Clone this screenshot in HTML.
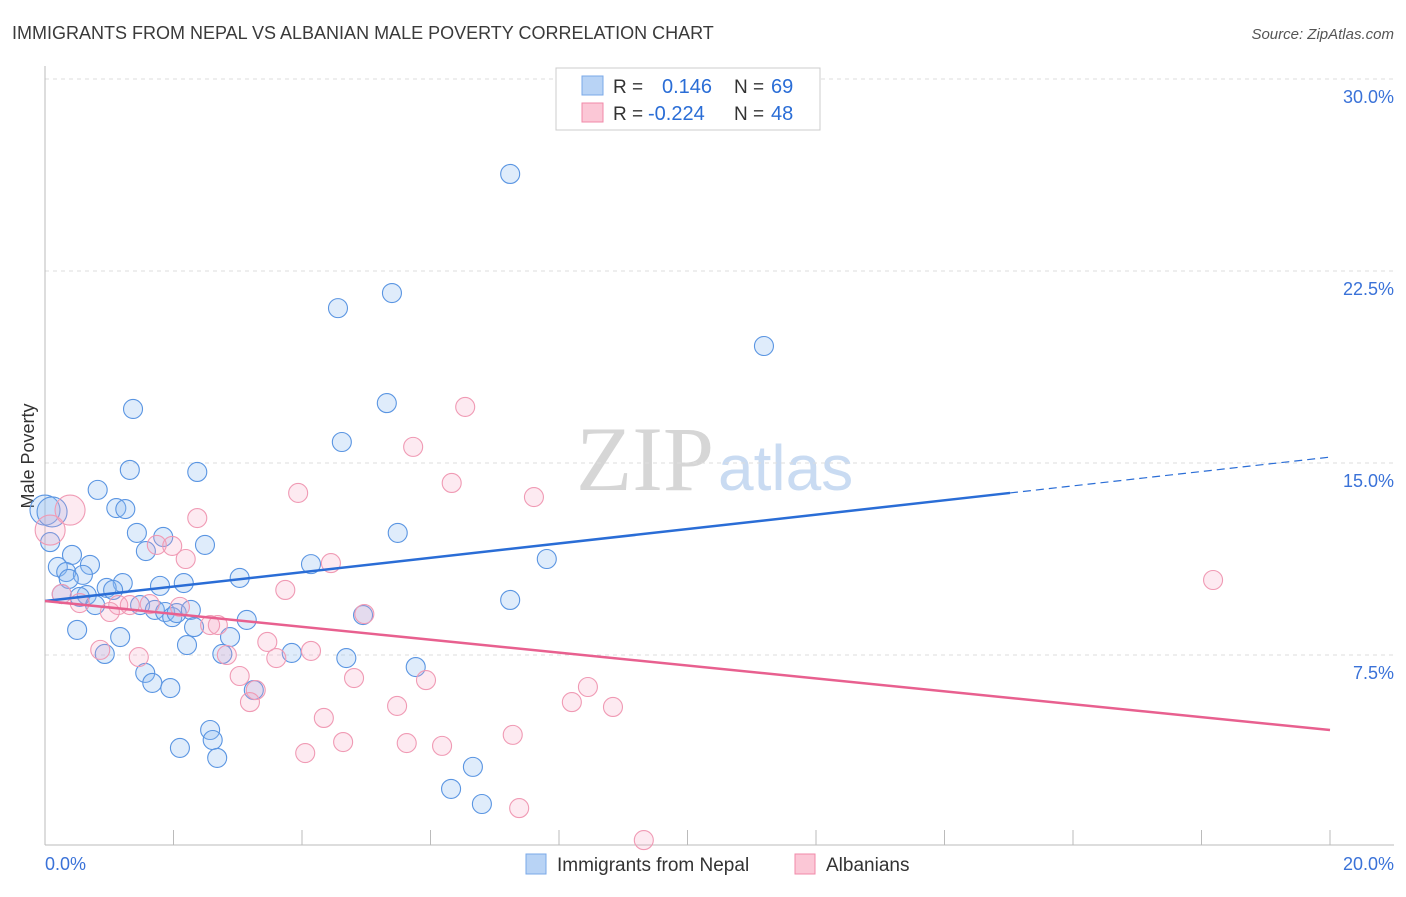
<!DOCTYPE html>
<html><head><meta charset="utf-8"><style>
body{margin:0;background:#fff;font-family:"Liberation Sans",sans-serif;}
svg text{font-family:"Liberation Sans",sans-serif;}
</style></head><body>
<svg id="chart" width="1406" height="892" xmlns="http://www.w3.org/2000/svg">
<text x="12" y="39" font-size="18" fill="#3a3a3a">IMMIGRANTS FROM NEPAL VS ALBANIAN MALE POVERTY CORRELATION CHART</text>
<text x="1394" y="39" font-size="15" fill="#555" font-style="italic" text-anchor="end">Source: ZipAtlas.com</text>
<text x="34" y="456" font-size="18" fill="#333" transform="rotate(-90 34 456)" text-anchor="middle">Male Poverty</text>
<text x="714" y="490" font-size="92" fill="#d6d6d6" style="font-family:'Liberation Serif',serif" text-anchor="end">ZIP</text>
<text x="718" y="490" font-size="64" fill="#c9dbf2">atlas</text>
<g id="grid"></g><g id="axes"></g><g id="pts"></g><g id="trends"></g>
<g>
<rect x="556" y="68" width="264" height="62" fill="#fff" stroke="#ccc"/>
<rect x="582" y="76" width="21" height="19" fill="#b8d3f5" stroke="#7aa8e8"/>
<rect x="582" y="103" width="21" height="19" fill="#fbc7d6" stroke="#f08aa8"/>
<text x="613" y="93" font-size="19" fill="#333">R = </text><text x="662" y="93" font-size="20" fill="#2a6dd6">0.146</text>
<text x="734" y="93" font-size="19" fill="#333">N = </text><text x="771" y="93" font-size="20" fill="#2a6dd6">69</text>
<text x="613" y="120" font-size="19" fill="#333">R = </text><text x="648" y="120" font-size="20" fill="#2a6dd6">-0.224</text>
<text x="734" y="120" font-size="19" fill="#333">N = </text><text x="771" y="120" font-size="20" fill="#2a6dd6">48</text>
</g>
<g>
<rect x="526" y="854" width="20" height="20" fill="#b8d3f5" stroke="#7aa8e8"/>
<text x="557" y="871" font-size="19" fill="#333">Immigrants from Nepal</text>
<rect x="795" y="854" width="20" height="20" fill="#fbc7d6" stroke="#f08aa8"/>
<text x="826" y="871" font-size="19" fill="#333">Albanians</text>
</g>
</svg>
<script>
const yTicks=[7.5,15,22.5,30];
const yTickLabels=["7.5%","15.0%","22.5%","30.0%"];
const xTickCount=10;
const xLabels=["0.0%","20.0%"];
const nepalX=[7.24,5.40,4.56,11.19,1.37,5.32,4.62,1.32,2.37,0.82,0,1.11,1.25,0.11,0.08,1.43,1.84,5.49,2.49,1.57,0.42,0.70,0.20,0.33,0.59,0.37,4.14,7.81,3.03,1.21,1.79,2.16,0.96,1.06,0.26,0.65,0.54,7.24,0.78,1.48,1.71,1.87,1.98,2.05,2.27,4.95,3.14,2.32,0.50,1.17,2.88,2.21,0.93,2.76,3.84,4.69,5.77,1.56,1.67,1.95,3.25,2.57,2.61,2.10,2.68,6.66,6.32,6.80];
const nepalY=[26.29,21.64,21.05,19.57,17.11,17.34,15.82,14.73,14.65,13.95,13.16,13.24,13.20,13.09,11.91,12.27,12.11,12.27,11.80,11.56,11.41,11.02,10.94,10.74,10.63,10.47,11.05,11.25,10.51,10.31,10.20,10.31,10.12,10.04,9.88,9.84,9.77,9.65,9.45,9.45,9.26,9.18,8.98,9.14,9.26,9.06,8.87,8.59,8.48,8.20,8.20,7.89,7.54,7.54,7.58,7.38,7.03,6.80,6.41,6.21,6.13,4.57,4.18,3.87,3.48,3.13,2.27,1.68];
const albX=[6.54,5.73,6.33,3.94,7.61,0.39,2.37,0.08,1.74,1.98,2.19,4.45,18.18,0.26,0.54,1.14,1.32,1.63,2.10,1.01,3.74,4.97,2.57,2.69,0.86,1.46,2.83,3.46,4.14,3.60,3.03,4.81,5.93,3.28,8.45,3.19,8.20,8.84,5.48,4.34,7.28,4.64,5.63,6.18,4.05,7.38,9.32];
const albY=[17.19,15.63,14.22,13.83,13.67,13.16,12.85,12.38,11.80,11.76,11.25,11.09,10.43,9.88,9.53,9.45,9.45,9.49,9.38,9.18,10.04,9.10,8.67,8.67,7.70,7.42,7.50,8.01,7.66,7.38,6.68,6.60,6.52,6.13,6.25,5.66,5.66,5.47,5.51,5.04,4.38,4.10,4.06,3.95,3.67,1.52,0.27];
const bigNepal=[10,13];const bigAlb=[5,7];
const nepalTrend=[9.61,15.23];const nepalSolidEnd=15.02;
const albTrend=[9.61,4.57];
const X=v=>45+v*64.25, Y=v=>847-v*25.6;
const NS="http://www.w3.org/2000/svg";
function mk(tag,attrs,parent){const e=document.createElementNS(NS,tag);for(const k in attrs)e.setAttribute(k,attrs[k]);document.getElementById(parent).appendChild(e);return e;}
yTicks.forEach((t,i)=>{
 const l=mk('line',{x1:45,x2:1394,y1:Y(t),y2:Y(t),stroke:'#ddd','stroke-dasharray':'4,4'},'grid');
 
 
 const tx=mk('text',{x:1394,y:Y(t)+24,'font-size':18,fill:'#3a72d8','text-anchor':'end'},'grid');
 tx.textContent=yTickLabels[i];
 
 
});
const ax=mk('line',{x1:45,x2:45,y1:66,y2:845,stroke:'#bbb'},'axes');


const bx=mk('line',{x1:45,x2:1394,y1:845,y2:845,stroke:'#bbb'},'axes');


for(let i=0;i<=xTickCount;i++){const t=mk('line',{x1:X(i*2),x2:X(i*2),y1:830,y2:845,stroke:'#bbb'},'axes');
 
 }
[[0,'start',45],[20,'end',1394]].forEach((d,i)=>{const t=mk('text',{x:d[2],y:870,'font-size':18,fill:'#3a72d8','text-anchor':d[1]},'axes');t.textContent=xLabels[i];
 
 });
nepalX.forEach((x,i)=>{const c=mk('circle',{cx:X(x),cy:Y(nepalY[i]),r:bigNepal.includes(i)?15:9.5,fill:'rgba(140,185,240,0.28)',stroke:'#5a95e2','stroke-width':1.1},'pts');
 
 });
albX.forEach((x,i)=>{const c=mk('circle',{cx:X(x),cy:Y(albY[i]),r:bigAlb.includes(i)?15:9.5,fill:'rgba(245,160,190,0.22)',stroke:'#f09ab4','stroke-width':1.1},'pts');
 
 });
const s=(nepalTrend[1]-nepalTrend[0])/20;
const l1=mk('line',{x1:X(0),y1:Y(nepalTrend[0]),x2:X(nepalSolidEnd),y2:Y(nepalTrend[0]+s*nepalSolidEnd),stroke:'#2a6dd6','stroke-width':2.5},'trends');


const l2=mk('line',{x1:X(nepalSolidEnd),y1:Y(nepalTrend[0]+s*nepalSolidEnd),x2:X(20),y2:Y(nepalTrend[1]),stroke:'#2a6dd6','stroke-width':1.2,'stroke-dasharray':'8,5'},'trends');


const l3=mk('line',{x1:X(0),y1:Y(albTrend[0]),x2:X(20),y2:Y(albTrend[1]),stroke:'#e8608f','stroke-width':2.5},'trends');


</script>
</body></html>
